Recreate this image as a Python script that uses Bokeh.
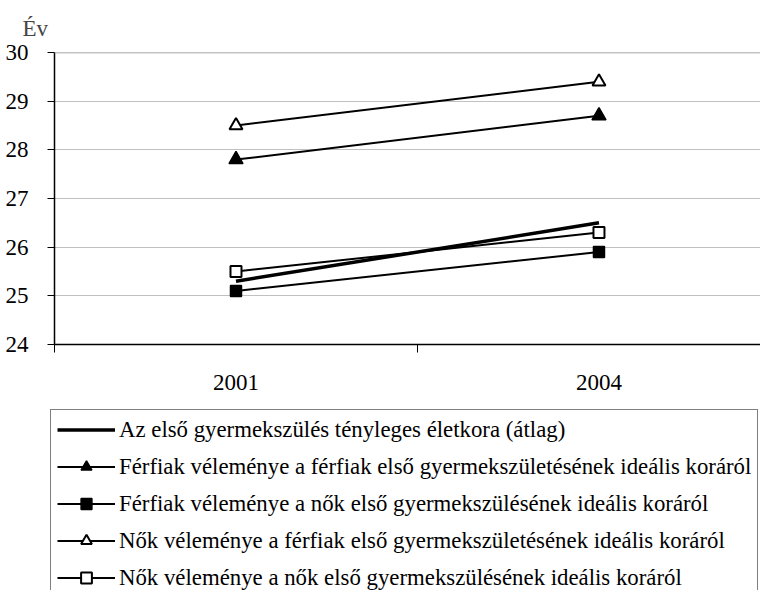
from bokeh.plotting import figure
from bokeh.layouts import column, row
from bokeh.models import Range1d, FixedTicker, Legend, LegendItem, Span
from bokeh.embed import file_html
from bokeh.resources import INLINE

# ---- data ----
years = ["2001", "2004"]
actual_age = [25.3, 26.5]
men_on_men = [27.8, 28.7]
men_on_women = [25.1, 25.9]
women_on_men = [28.5, 29.4]
women_on_women = [25.5, 26.3]
series_labels = [
    "Az első gyermekszülés tényleges életkora (átlag)",
    "Férfiak véleménye a férfiak első gyermekszületésének ideális koráról",
    "Férfiak véleménye a nők első gyermekszülésének ideális koráról",
    "Nők véleménye a férfiak első gyermekszületésének ideális koráról",
    "Nők véleménye a nők első gyermekszülésének ideális koráról",
]
y_ticks = [24, 25, 26, 27, 28, 29, 30]
y_title = "Év"

FONT = "Liberation Serif"
FS = "23px"
x = list(range(len(years)))

p = figure(width=760, height=400, output_backend="svg", toolbar_location=None,
           x_range=Range1d(-0.5, 1.445), y_range=Range1d(24, 30),
           min_border_left=54, min_border_right=0, min_border_top=52,
           min_border_bottom=56, background_fill_color="white",
           border_fill_color="white")
p.outline_line_color = None

# title "Év"
p.title.text = y_title
p.title.text_font = FONT
p.title.text_font_size = FS
p.title.text_font_style = "normal"
p.title.align = "left"
p.title.offset = -32
p.title.standoff = 23

# grid
p.xgrid.visible = False
p.ygrid.ticker = FixedTicker(ticks=y_ticks)
p.ygrid.grid_line_color = "#c0c0c0"
p.ygrid.grid_line_width = 1
p.add_layout(Span(location=30, dimension="width", line_color="#888888", line_width=1.5))

# y axis
p.yaxis.ticker = FixedTicker(ticks=y_ticks)
p.yaxis.axis_line_color = "black"
p.yaxis.axis_line_width = 1.5
p.yaxis.major_tick_out = 7
p.yaxis.major_tick_in = 0
p.yaxis.minor_tick_line_color = None
p.yaxis.major_label_text_font = FONT
p.yaxis.major_label_text_font_size = FS
p.yaxis.major_label_text_color = "black"
p.yaxis.major_label_standoff = 19

# x axis
p.xaxis.ticker = FixedTicker(ticks=x, minor_ticks=[-0.5, 0.5, 1.5])
p.xaxis.major_label_overrides = {i: y for i, y in zip(x, years)}
p.xaxis.axis_line_color = "black"
p.xaxis.axis_line_width = 1.5
p.xaxis.major_tick_out = 0
p.xaxis.major_tick_in = 0
p.xaxis.minor_tick_out = 8
p.xaxis.minor_tick_in = 0
p.xaxis.minor_tick_line_color = "black"
p.xaxis.major_label_text_font = FONT
p.xaxis.major_label_text_font_size = FS
p.xaxis.major_label_text_color = "black"
p.xaxis.major_label_standoff = 22

# series styles
LINE = dict(line_color="black", line_width=2)
STYLES = [
    dict(marker=None, width=3.5),
    dict(marker="triangle", size=14, fill="black", lw=1.5),
    dict(marker="square", size=11, fill="black", lw=1.5),
    dict(marker="triangle", size=13, fill="white", lw=2),
    dict(marker="square", size=11, fill="white", lw=2),
]
series = [actual_age, men_on_men, men_on_women, women_on_men, women_on_women]

# legend lives in its own figure (below the chart); its renderers carry the
# same data but fall outside that figure's range, so only the legend shows
leg_fig = figure(width=760, height=190, output_backend="svg", toolbar_location=None,
                 x_range=Range1d(100, 101), y_range=Range1d(100, 101),
                 x_axis_location=None, y_axis_location=None,
                 min_border=0, min_border_left=0, background_fill_color="white",
                 border_fill_color="white")
leg_fig.outline_line_color = None
leg_fig.grid.visible = False

items = []
for vals, st, lab in zip(series, STYLES, series_labels):
    if st["marker"] is None:
        p.line(x, vals, line_color="black", line_width=st["width"])
        d = leg_fig.line(x, vals, line_color="black", line_width=st["width"])
        items.append(LegendItem(label=lab, renderers=[d]))
    else:
        p.line(x, vals, **LINE)
        p.scatter(x, vals, marker=st["marker"], size=st["size"],
                  fill_color=st["fill"], line_color="black", line_width=st["lw"])
        dl = leg_fig.line(x, vals, **LINE)
        dm = leg_fig.scatter(x, vals, marker=st["marker"], size=st["size"],
                             fill_color=st["fill"], line_color="black",
                             line_width=st["lw"])
        items.append(LegendItem(label=lab, renderers=[dl, dm]))

legend = Legend(items=items, location=(50, -8),
                label_text_font=FONT, label_text_font_size="22.8px",
                label_text_color="black",
                glyph_width=58, glyph_height=27, label_height=27,
                spacing=10, padding=6, margin=0, label_standoff=4,
                border_line_color="black", border_line_width=1,
                background_fill_color="white", background_fill_alpha=1)
leg_fig.add_layout(legend, "center")

layout = column(p, row(leg_fig, spacing=0), spacing=0)
open("out.html", "w").write(file_html(layout, INLINE))
